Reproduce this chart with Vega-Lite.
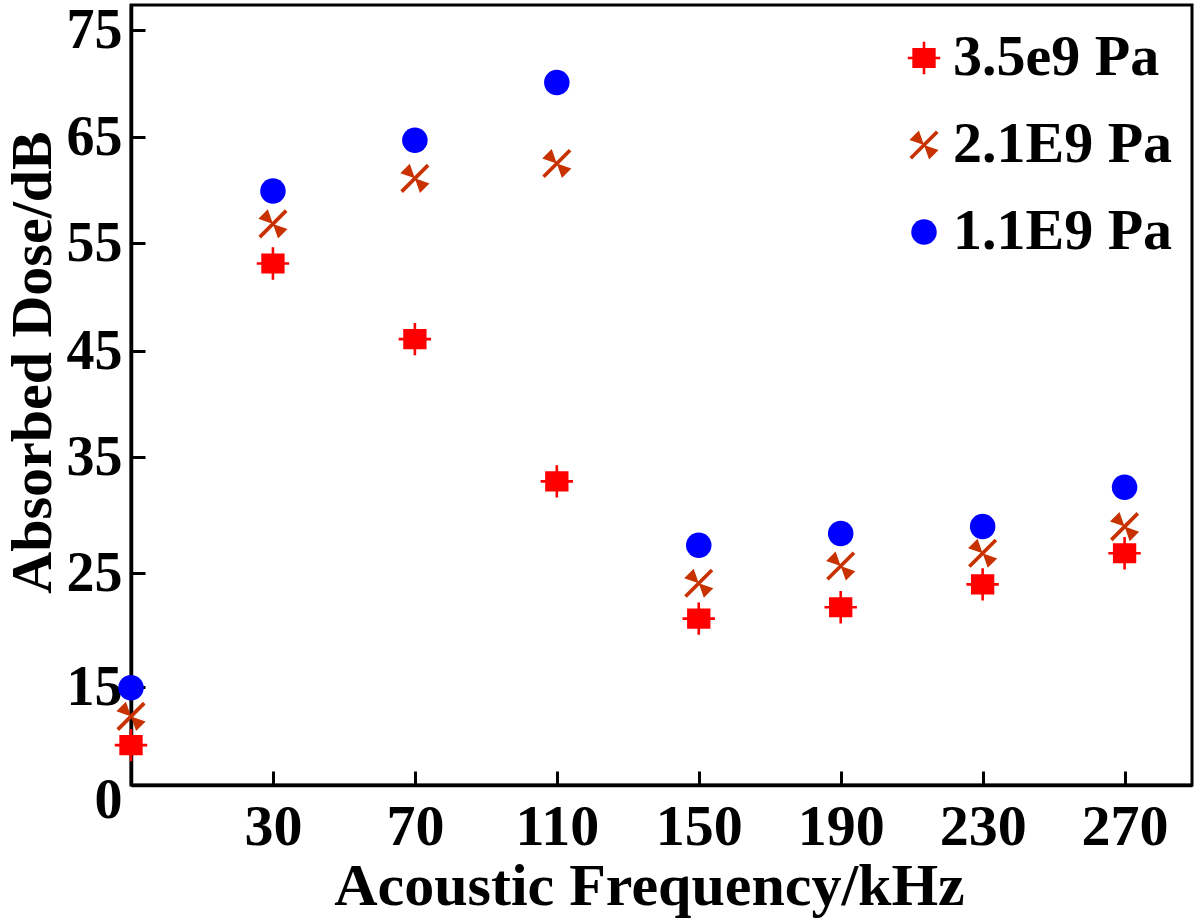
{
  "$schema": "https://vega.github.io/schema/vega-lite/v6.json",
  "width": 1061,
  "height": 780,
  "autosize": "none",
  "padding": {"left": 131, "top": 5, "right": 8, "bottom": 135},
  "background": "white",
  "config": {"font": "Liberation Serif", "view": {"stroke": "black", "strokeWidth": 3}},
  "data": {"values": [
    {"freq": -10, "dose": 6.1, "series": "3.5e9 Pa"},
    {"freq": 30, "dose": 53.1, "series": "3.5e9 Pa"},
    {"freq": 70, "dose": 46.1, "series": "3.5e9 Pa"},
    {"freq": 110, "dose": 32.9, "series": "3.5e9 Pa"},
    {"freq": 150, "dose": 21.0, "series": "3.5e9 Pa"},
    {"freq": 190, "dose": 22.0, "series": "3.5e9 Pa"},
    {"freq": 230, "dose": 24.0, "series": "3.5e9 Pa"},
    {"freq": 270, "dose": 26.7, "series": "3.5e9 Pa"},
    {"freq": -10, "dose": 10.5, "series": "2.1E9 Pa"},
    {"freq": 30, "dose": 56.8, "series": "2.1E9 Pa"},
    {"freq": 70, "dose": 61.1, "series": "2.1E9 Pa"},
    {"freq": 110, "dose": 62.5, "series": "2.1E9 Pa"},
    {"freq": 150, "dose": 24.1, "series": "2.1E9 Pa"},
    {"freq": 190, "dose": 25.6, "series": "2.1E9 Pa"},
    {"freq": 230, "dose": 26.7, "series": "2.1E9 Pa"},
    {"freq": 270, "dose": 29.0, "series": "2.1E9 Pa"},
    {"freq": -10, "dose": 14.9, "series": "1.1E9 Pa"},
    {"freq": 30, "dose": 59.9, "series": "1.1E9 Pa"},
    {"freq": 70, "dose": 64.7, "series": "1.1E9 Pa"},
    {"freq": 110, "dose": 70.1, "series": "1.1E9 Pa"},
    {"freq": 150, "dose": 27.4, "series": "1.1E9 Pa"},
    {"freq": 190, "dose": 28.4, "series": "1.1E9 Pa"},
    {"freq": 230, "dose": 29.0, "series": "1.1E9 Pa"},
    {"freq": 270, "dose": 32.4, "series": "1.1E9 Pa"}
  ]},
  "mark": {"type": "point", "filled": true, "opacity": 1, "strokeWidth": 0},
  "encoding": {
    "x": {
      "field": "freq", "type": "quantitative",
      "scale": {"domain": [-10, 289], "nice": false, "zero": false},
      "axis": {
        "title": "Acoustic Frequency/kHz",
        "values": [30, 70, 110, 150, 190, 230, 270],
        "grid": false,
        "domainColor": "black", "domainWidth": 3.5,
        "tickColor": "black", "tickWidth": 3, "tickSize": -14,
        "labelFont": "Liberation Serif", "labelFontSize": 58, "labelFontWeight": "bold", "labelColor": "black",
        "labelPadding": 27,
        "titleFont": "Liberation Serif", "titleFontSize": 60, "titleFontWeight": "bold", "titleColor": "black",
        "titlePadding": 1,
        "titleX": 518
      }
    },
    "y": {
      "field": "dose", "type": "quantitative",
      "scale": {"domain": [0, 15, 25, 35, 45, 55, 65, 75, 77.3], "range": [780, 682, 568, 452, 346, 238, 132, 25, 0], "nice": false, "zero": false},
      "axis": {
        "title": "Absorbed Dose/dB",
        "values": [0, 15, 25, 35, 45, 55, 65, 75],
        "grid": false,
        "domainColor": "black", "domainWidth": 3.5,
        "tickColor": "black", "tickWidth": 3, "tickSize": -14,
        "labelFont": "Liberation Serif", "labelFontSize": 56, "labelFontWeight": "bold", "labelColor": "black",
        "labelPadding": 23,
        "labelOffset": {"condition": {"test": "datum.value < 1", "value": 15}, "value": 0},
        "titleFont": "Liberation Serif", "titleFontSize": 58, "titleFontWeight": "bold", "titleColor": "black",
        "titlePadding": 4,
        "titleY": 357
      }
    },
    "color": {
      "field": "series", "type": "nominal",
      "scale": {"domain": ["3.5e9 Pa", "2.1E9 Pa", "1.1E9 Pa"], "range": ["#ff0000", "#c83200", "#0000ff"]},
      "legend": {"title": null, "orient": "none", "legendX": 764, "legendY": 24, "labelFont": "Liberation Serif", "labelFontSize": 58, "labelFontWeight": "bold", "labelColor": "black", "labelOffset": 0, "rowPadding": 29, "labelLimit": 0, "symbolStrokeWidth": 0}
    },
    "shape": {
      "field": "series", "type": "nominal",
      "scale": {"domain": ["3.5e9 Pa", "2.1E9 Pa", "1.1E9 Pa"], "range": [
        "M-0.72,-0.62L0.72,-0.62L0.72,0.62L-0.72,0.62Z M-1,-0.08L1,-0.08L1,0.08L-1,0.08Z M-0.08,-1L0.08,-1L0.08,1L-0.08,1Z",
        "M0,0L-1,-0.35L-0.35,-1Z M0,0L1,0.35L0.35,1Z M0.82,-1L1,-0.82L-0.82,1L-1,0.82Z",
        "circle"]},
      "legend": {"title": null, "orient": "none", "legendX": 764, "legendY": 24, "labelFont": "Liberation Serif", "labelFontSize": 58, "labelFontWeight": "bold", "labelColor": "black", "labelOffset": 0, "rowPadding": 29, "labelLimit": 0, "symbolStrokeWidth": 0}
    },
    "size": {
      "field": "series", "type": "nominal",
      "scale": {"domain": ["3.5e9 Pa", "2.1E9 Pa", "1.1E9 Pa"], "range": [1050, 650, 500]},
      "legend": {"title": null, "orient": "none", "legendX": 764, "legendY": 24, "labelFont": "Liberation Serif", "labelFontSize": 58, "labelFontWeight": "bold", "labelColor": "black", "labelOffset": 0, "rowPadding": 29, "labelLimit": 0, "symbolStrokeWidth": 0}
    }
  }
}
